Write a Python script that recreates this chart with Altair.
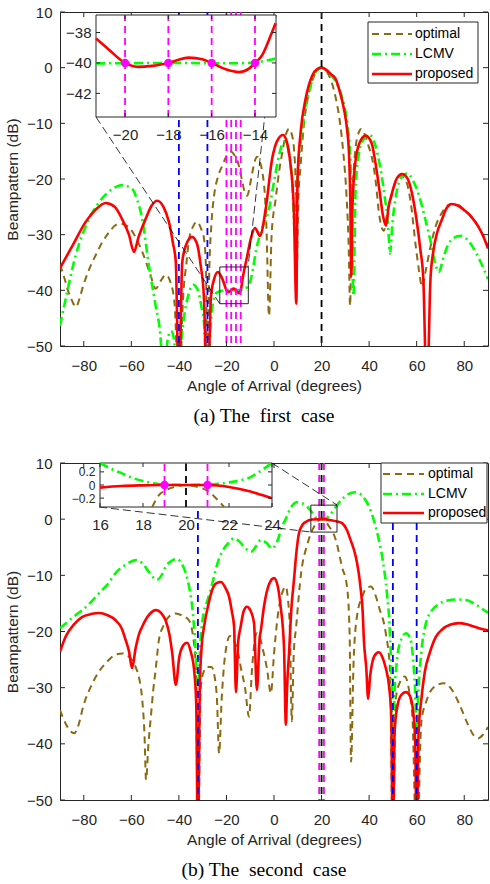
import altair as alt
import pandas as pd

# ---------------- case (a) ----------------
A_PROP_X = [-90, -84.8, -79.2, -75, -70.8, -67, -63.9, -61, -58.9, -57, -54, -51.5, -49.1, -46.5, -44.2, -42.5, -41.3, -40,
            -38.6, -37.1, -34.5, -32.5, -30.8, -29.5, -28, -26.5, -25.2, -23.6, -22.2, -21.3, -20, -19.2, -18, -17, -16,
            -14.8, -14, -13, -11.2, -9.8, -8, -5.9, -3.5, -0.8, 1.5, 3.8, 5.5, 7, 8.3, 9.4, 9.9, 11.2, 13.3, 16.1, 18, 20,
            22, 24, 25.9, 27.8, 29.4, 30.7, 31.6, 32.1, 32.5, 33, 34.2, 36, 38.5, 41, 43, 44.5, 45.8, 47.1, 48.2, 49.7,
            51.5, 53.8, 56, 58, 60, 61.5, 62.8, 64.3, 65.8, 67, 68.5, 70.7, 72.5, 74.8, 77.5, 80, 83, 86, 88, 90]
A_PROP_Y = [-36, -32, -27.7, -25.5, -24.3, -25, -27.2, -30, -33.1, -30.5, -27.2, -24.8, -23.9, -25, -27.7, -31.5, -34.9, -60,
            -35, -32, -30.4, -31.5, -35.6, -41, -60, -41, -38, -36.7, -37.5, -38.4, -40, -40.3, -40, -39.7, -40,
            -40.5, -40, -37.4, -33.7, -30.8, -28.8, -30.2, -25.4, -16.4, -13, -12.1, -13.5, -17.6, -25, -42.4, -20, -11.6, -5.6, -1.4, -0.3, 0,
            -0.4, -1.2, -2, -4.5, -7.4, -11, -16, -24, -37.4, -25, -17, -13.5, -12.2, -13.5, -18, -22.5, -26.5, -28.4, -25, -22.4,
            -20, -19.1, -19.8, -22.5, -27.5, -32.5, -38, -60, -38, -33, -29.8, -27.2, -25.3, -24.5, -24.8, -25.6, -26.8, -28.6, -30.3, -32.5]

A_LCMV_X = [-90, -87.6, -83.4, -77.8, -73.6, -68, -63.9, -59.6, -57.5, -55.4, -52.6, -49.8, -47.8, -46.2, -44.8, -43.3, -42,
            -40.8, -39.2, -37.9, -36, -34, -32, -30.5, -29.4, -28, -26.6, -25.3, -24, -22, -18, -14, -13, -11.2, -10.5, -9,
            -7.4, -5.6, -2.1, 0, 2.1, 3.5, 4.9, 6.3, 7.7, 8.8, 9.5, 10.5, 11.9, 13, 14.7, 17, 20, 23, 26, 28, 29.5, 31, 32.3,
            33.4, 34.3, 35.5, 37.5, 40, 42.5, 44.5, 46.5, 48, 48.8, 49.8, 51.5, 53.5, 56, 58.5, 61, 63.5, 66, 68, 69.4, 71,
            73, 75.5, 78.6, 81.5, 84, 87, 90]
A_LCMV_Y = [-46.4, -41.5, -33.7, -27.2, -24.2, -21.8, -21.1, -21.8, -23.8, -27.2, -35.6, -42.7, -48, -58, -49, -47.3, -49,
            -60, -50, -45, -40.8, -39, -40, -43, -46, -60, -46, -41.5, -40.4, -40.1, -40, -40, -39.8, -39.4, -39.1, -36.5,
            -32.5, -29.6, -25.4, -20.5, -15.8, -13.8, -13.4, -15.5, -20.6, -29.5, -23, -16, -11.6, -7.5, -4.4, -1.2, 0, -1, -2.5, -4.5, -6.8, -10.5, -18,
            -41, -22, -16, -13, -12, -13.8, -17.5, -23, -28.5, -33.4, -28, -22.5, -19.8, -19, -20.3, -23, -27, -31.5, -35.5, -36.7, -34.5,
            -32, -30.6, -30.2, -31, -32.5, -35, -38]

A_OPT_X = [-90, -88, -86.9, -85, -83.3, -81.8, -80.6, -78, -75, -72, -69.4, -67, -65.2, -62.5, -60.3, -57.8, -55.4, -51.9,
           -49.8, -47.5, -45.5, -43.5, -41.8, -40, -38.2, -36.8, -35.7, -34, -32.4, -30.8, -29.4, -28.6, -28, -27.3, -26.3,
           -25.2, -23.5, -21.7, -19.5, -18, -16.5, -15.4, -14.3, -13.3, -12.2, -11.2, -10.2, -9.1, -8, -7.1, -6, -4.9, -3.9,
           -3.2, -2.1, -1, 0.7, 2.2, 3.5, 5, 6.3, 7.5, 8.4, 9.2, 9.6, 10.2, 11.2, 12.5, 14, 16, 18, 20, 22, 24, 26, 27.8, 29.3,
           30.5, 31.4, 32, 32.7, 33.6, 34.5, 35.8, 36.6, 38, 39.7, 41.3, 42.8, 44.1, 46.2, 47.8, 49.1, 51.2, 53.4, 55.5, 57.5,
           59.6, 61, 62.3, 63.8, 65.9, 68, 70.7, 72.8, 74.8, 77, 80, 83, 86, 88, 90]
A_OPT_Y = [-35.4, -38, -39.7, -41.8, -43, -41.5, -39.7, -36.5, -33.7, -31.2, -29.6, -28.4, -28, -28.3, -29, -30.8, -33.1, -37.3,
           -39.7, -38.2, -37.2, -38.6, -42.5, -60, -41, -35, -30.8, -28.5, -27.7, -28.8, -30.8, -36, -60, -38, -28,
           -23, -19.5, -17.6, -15.5, -15.1, -15.8, -16.7, -18.5, -20.6, -22.5, -23, -21.3, -18.8, -16.7, -16, -16.8, -18.8, -22.5,
           -28.4, -44.6, -30, -23.6, -18.5, -15.2, -12, -11, -12, -14.6, -22, -36, -24, -17.6, -10.5, -6, -2.5, -0.6, 0, -0.6, -2.3, -5.5, -10, -16,
           -23, -32, -42.8, -26, -18, -13.8, -11.5, -11, -11.8, -14, -16.4, -20.5, -26, -29.3, -25.5, -23.6, -20.5, -19.4, -20.3, -24.2,
           -32, -36.5, -39.4, -36.5, -32, -28.5, -26, -24.8, -24.5, -24.6, -25.5, -26.8, -28.6, -30.2, -32]

A_BLUE = [-40, -28]
A_MAGENTA = [-20, -18, -16, -14]
A_BLACK = [20]
A_ZOOM = [-22.8, -10.8, -42.4, -35.8]          # x1, x2, y1, y2 of the zoomed box

A_IN_X = [-21.34, -13.03]
A_IN_Y = [-43.55, -36.85]
A_IN_PROP_X = [-21.34, -20.74, -20, -19.43, -18.74, -18, -17.05, -16.43, -16, -15.35, -14.74, -14.28, -14, -13.66, -13.28, -13.05]
A_IN_PROP_Y = [-38.39, -39.13, -40, -40.26, -40.19, -40, -39.65, -39.76, -40, -40.42, -40.6, -40.37, -40, -39.47, -38.22, -37.39]
A_IN_LCMV_X = [-21.34, -18, -15, -14, -13.5, -13.03]
A_IN_LCMV_Y = [-40.03, -40, -40.02, -39.98, -39.85, -39.7]
A_IN_DOTS = [-20, -18, -16, -14]
A_IN_DOT_Y = -40

# ---------------- case (b) ----------------
B_PROP_X = [-90, -87.6, -84, -80.6, -77, -73.6, -70, -66.6, -64, -62.4, -61, -59.7, -58.2, -56.8, -55.4, -52.5, -49.6, -47.5,
            -45.6, -44, -42.8, -41.3, -39.8, -38.2, -36.6, -35, -33.6, -32.7, -32, -31.2, -30.4, -29.4, -27.6, -26, -24.2,
            -22.3, -20.5, -18.9, -17.7, -16.8, -16, -15.1, -14, -12.7, -11.4, -10, -8.4, -7.2, -6, -5.6, -4.2, -2, 0, 1.5,
            2.8, 4.2, 5, 5.5, 6.3, 7.3, 8.4, 9.4, 10.5, 12, 13.3, 16, 20, 24, 26.5, 28.6, 30.5, 32.2, 34.4, 35.6, 36.5, 37.3,
            37.8, 38.8, 39.6, 40.4, 41.5, 43, 44.1, 45.5, 47, 48.4, 49.3, 50, 50.7, 51.8, 53.5, 55.5, 57.2, 58.6, 59.4, 60,
            60.8, 62, 63.5, 65.5, 68, 70.8, 74, 77.8, 81, 84, 87, 90]
B_PROP_Y = [-23.6, -20.9, -18.7, -17.4, -16.9, -16.7, -17.1, -18, -19.5, -21.5, -23.5, -26.5, -23, -20.5, -19.1, -17, -16.2, -16.7,
            -18, -20.5, -23.9, -29.5, -24.5, -22.5, -22, -23.6, -26.9, -33, -60, -30, -22.5, -19.1, -15.2, -12.6, -11.4,
            -11.2, -12.2, -13.8, -16.5, -19.1, -30.8, -22, -19.1, -16.3, -15.6, -16.2, -18.5, -30.4, -21, -20, -15.5, -11.5, -10.5, -11.8,
            -15.6, -22.7, -36.6, -30, -24, -16, -10.8, -6, -2.5, -1, -0.5, -0.05, 0, -0.18, -0.4, -0.7, -1.8, -3.7, -6.7, -9.5, -12.6, -16.5,
            -21.5, -26.5, -32, -28, -25.2, -23.9, -23.7, -24.5, -26.5, -29.8, -35, -60, -38, -33.5, -31.3, -30.8, -31.5, -34.5, -40, -60,
            -38, -32, -27, -23.8, -21, -19.6, -18.8, -18.5, -18.7, -19.1, -19.5, -19.8]

B_LCMV_X = [-90, -84, -78, -73.6, -70, -66.6, -62, -58, -55, -52.6, -49.2, -47, -45.6, -43, -40.8, -39, -37.1, -35.5, -34.4,
            -33.3, -32, -30.8, -29.5, -28, -26, -23.5, -21, -19, -16.8, -14.5, -12, -9.7, -7.5, -5.5, -3.2, -0.9, 1.5, 3.2,
            4.9, 7, 9.7, 12, 14, 16, 18, 20, 22, 24, 26, 28.5, 31, 34.4, 37, 40, 42, 44.1, 45.8, 47.5, 48.7, 49.5, 50, 50.6,
            51.5, 53, 55.5, 57.5, 58.5, 59.3, 60, 60.8, 62, 63.9, 66, 69, 73, 77, 80.7, 84, 87, 90]
B_LCMV_Y = [-19.4, -17.3, -15.2, -13.2, -11.6, -9.6, -8, -7.3, -8, -9.4, -10.8, -9.8, -8.5, -7.4, -7.1, -7.8, -9.6, -12.5, -15.6,
            -21, -30, -21, -16.5, -14.5, -11.5, -7.5, -5.2, -4.2, -3.4, -4, -5.2, -5.8, -4.8, -3.7, -4.2, -5.2, -3.8, -1.5,
            0, 2, 3, 2.8, 2.2, 1.2, 0.15, 0, 0.15, 1, 2.2, 3.5, 4.4, 4.8, 4.2, 2.2, -0.2, -3.7, -7.5, -13.2, -20, -30, -52, -32,
            -26, -22, -20.3, -21.5, -25, -30, -38, -30, -23.5, -18.5, -16.5, -15.2, -14.5, -14.3, -14.4, -15, -15.8, -16.7]

B_OPT_X = [-90, -87.5, -85.5, -84, -82.5, -80, -77, -74, -70, -67, -63.8, -61, -58.2, -56.5, -55.4, -54.5, -53.8, -52.8, -51.9,
           -50.8, -49.8, -48.4, -46.5, -44, -41.3, -38.5, -35.8, -34, -32.8, -32, -30.8, -29.6, -28, -26.3, -25, -24, -23.1,
           -22, -20.5, -18.5, -16.5, -15, -14, -12.2, -10.5, -9.3, -8.2, -7.2, -6, -4.5, -3, -1.3, 0, 1.5, 3.2, 4.9, 5.8, 6.7,
           7.5, 8.3, 9.3, 11.4, 14, 17, 20, 23, 26, 28.6, 30.7, 31.8, 32.4, 33.5, 35, 37.1, 38.8, 40.8, 42.5, 44.1, 47, 48.8,
           50, 51.2, 53, 55, 57, 58.2, 60, 62, 64, 67, 71.5, 75, 78, 81.5, 84, 86, 88, 90]
B_OPT_Y = [-34, -36.5, -37.8, -38.1, -37, -33, -29.8, -27.4, -25.3, -24.2, -23.9, -24.5, -26.3, -28.8, -32.2, -38, -46.4, -40, -35.7,
           -30.5, -26.9, -21.5, -19, -17.3, -16.8, -17.2, -18, -21, -27, -60, -30, -27.2, -26.3, -26.3, -28, -32, -41.7,
           -32, -24, -20.8, -22, -24, -26.3, -30, -35.2, -27, -22, -20.3, -21, -23.5, -26.5, -31, -24, -17.5, -13.5, -12, -14, -20,
           -36, -24, -19.2, -9.6, -4.5, -1.2, 0, -1.2, -3.7, -8.5, -12, -20.3, -43.2, -25, -17, -13.8, -12.3, -12, -13.3, -15.6, -20.3, -27,
           -60, -32, -29, -28, -31, -35.2, -60, -36, -32.5, -30, -29.2, -30.5, -33, -36.5, -38.5, -39, -38.3, -37]

B_BLUE = [-32, 50, 60]
B_MAGENTA = [19, 21]
B_BLACK = [20]
B_ZOOM = [15.5, 26.5, -2.3, 2.5]

B_IN_X = [16, 24]
B_IN_Y = [-0.335, 0.335]
B_IN_PROP_X = [16, 17, 18, 19, 20, 21, 22, 22.5, 23, 23.5, 24]
B_IN_PROP_Y = [-0.04, -0.015, -0.005, 0, 0, 0, -0.03, -0.06, -0.1, -0.15, -0.2]
B_IN_LCMV_X = [16, 16.5, 17, 17.5, 18, 18.5, 19, 20, 21, 21.5, 22, 22.5, 23, 23.5, 24]
B_IN_LCMV_Y = [0.335, 0.25, 0.18, 0.11, 0.06, 0.025, 0.005, 0, 0.005, 0.02, 0.04, 0.07, 0.12, 0.22, 0.335]
B_IN_OPT_X = [18.43, 18.75, 19, 19.6, 20, 20.4, 21, 21.3, 21.77]
B_IN_OPT_Y = [-0.335, -0.15, -0.09, -0.02, 0, -0.02, -0.09, -0.17, -0.335]
B_IN_DOTS = [19, 21]
B_IN_DOT_Y = 0

SERIES = ["optimal", "LCMV", "proposed"]
XTICKS = [-80, -60, -40, -20, 0, 20, 40, 60, 80]
YTICKS = [-50, -40, -30, -20, -10, 0, 10]
A_IN_XTICKS = [-20, -18, -16, -14]
A_IN_YTICKS = [-42, -40, -38]
B_IN_XTICKS = [16, 18, 20, 22, 24]
B_IN_YTICKS = [-0.2, 0, 0.2]

# ---------------- styling ----------------
W = 428
FONT = "Liberation Sans"
AXC = "#262626"
COL = {"optimal": "#8c6a12", "LCMV": "#00ff00", "proposed": "#ff0000"}
DASH = {"optimal": [7, 5], "LCMV": [9, 4, 2, 4], "proposed": None}
WID = {"optimal": 2.0, "LCMV": 2.6, "proposed": 2.6}
BLUE, MAG, BLK = "#0000ff", "#ff00ff", "#000000"


def line_layer(xs, ys, name, X, Y, clip):
    kw = dict(color=COL[name], strokeWidth=WID[name], interpolate="monotone", clip=clip)
    if DASH[name] is not None:
        kw["strokeDash"] = DASH[name]
    return alt.Chart(pd.DataFrame({"x": xs, "y": ys})).mark_line(**kw).encode(x=X("x"), y=Y("y"))


def panel(H, curves, blue, magenta, black, zoom, inset, legend, caption, cap_dx):
    sx = alt.Scale(domain=[-90, 90], nice=False, zero=False)
    sy = alt.Scale(domain=[-50, 10], nice=False, zero=False)
    ax_x = alt.Axis(values=XTICKS, title="Angle of Arrival (degrees)", ticks=False, domain=False, grid=False,
                    labelPadding=12, titlePadding=5, labelFlush=False)
    ax_y = alt.Axis(values=YTICKS, title="Beampattern (dB)", ticks=False, domain=False, grid=False,
                    labelPadding=8, titlePadding=6, labelFlush=False)
    X = lambda f: alt.X(f, type="quantitative", scale=sx, axis=ax_x)
    Y = lambda f: alt.Y(f, type="quantitative", scale=sy, axis=ax_y)

    layers = []
    for name in SERIES:
        xs, ys = curves[name]
        layers.append(line_layer(xs, ys, name, X, Y, True))
    for vals, c in ((blue, BLUE), (magenta, MAG), (black, BLK)):
        layers.append(alt.Chart(pd.DataFrame({"v": vals})).mark_rule(color=c, strokeWidth=1.8, strokeDash=[7, 5])
                      .encode(x=X("v")))
    # inward ticks
    tx = pd.DataFrame({"v": XTICKS})
    ty = pd.DataFrame({"v": YTICKS})
    layers.append(alt.Chart(tx).mark_rule(color=AXC, strokeWidth=1).encode(x=X("v"), y=alt.value(H), y2=alt.value(H - 5)))
    layers.append(alt.Chart(tx).mark_rule(color=AXC, strokeWidth=1).encode(x=X("v"), y=alt.value(0), y2=alt.value(5)))
    layers.append(alt.Chart(ty).mark_rule(color=AXC, strokeWidth=1).encode(y=Y("v"), x=alt.value(0), x2=alt.value(5)))
    layers.append(alt.Chart(ty).mark_rule(color=AXC, strokeWidth=1).encode(y=Y("v"), x=alt.value(W - 5), x2=alt.value(W)))
    # zoom box
    zb = pd.DataFrame({"x1": [zoom[0]], "x2": [zoom[1]], "y1": [zoom[2]], "y2": [zoom[3]]})
    layers.append(alt.Chart(zb).mark_rect(fillOpacity=0, stroke=AXC, strokeWidth=1)
                  .encode(x=X("x1"), x2="x2", y=Y("y1"), y2="y2"))
    # connectors
    one = pd.DataFrame({"a": [0]})
    for (p, q, r, s) in inset["connect"]:
        layers.append(alt.Chart(one).mark_rule(color=BLK, strokeWidth=0.8, strokeDash=[8, 4])
                      .encode(x=alt.value(p), y=alt.value(q), x2=alt.value(r), y2=alt.value(s)))
    # legend
    lx1, lx2, ly1, ly2, sx1, sx2, tx0, rows = legend
    layers.append(alt.Chart(one).mark_rect(fill="white", stroke=AXC, strokeWidth=1)
                  .encode(x=alt.value(lx1), x2=alt.value(lx2), y=alt.value(ly1), y2=alt.value(ly2)))
    for name, yy in zip(SERIES, rows):
        kw = dict(color=COL[name], strokeWidth=WID[name])
        if DASH[name] is not None:
            kw["strokeDash"] = DASH[name]
        layers.append(alt.Chart(one).mark_rule(**kw)
                      .encode(x=alt.value(sx1), x2=alt.value(sx2), y=alt.value(yy)))
        layers.append(alt.Chart(one).mark_text(text=name, font=FONT, fontSize=14, color="black", align="left",
                                               baseline="middle")
                      .encode(x=alt.value(tx0), y=alt.value(yy)))
    main = alt.layer(*layers)

    # ---------------- inset ----------------
    (ix0, ix1), (iy0, iy1) = inset["dom_x"], inset["dom_y"]
    (px0, px1), (py0, py1) = inset["rng_x"], inset["rng_y"]   # py0 bottom pixel, py1 top pixel
    six = alt.Scale(domain=[ix0, ix1], range=[px0, px1], nice=False, zero=False)
    siy = alt.Scale(domain=[iy0, iy1], range=[py0, py1], nice=False, zero=False)
    iax_x = alt.Axis(orient="bottom", offset=-(H - py0), values=inset["xt"], ticks=False, domain=False, grid=False,
                     title=None, labelPadding=10, labelFlush=False, labelOverlap=False, format=inset["fmt_x"])
    iax_y = alt.Axis(orient="left", offset=-px0, values=inset["yt"], ticks=False, domain=False, grid=False,
                     title=None, labelPadding=5, labelFlush=False, labelOverlap=False, format=inset["fmt_y"],
                     labelFontSize=inset["yfs"])
    IX = lambda f: alt.X(f, type="quantitative", scale=six, axis=iax_x)
    IY = lambda f: alt.Y(f, type="quantitative", scale=siy, axis=iax_y)
    il = []
    bg = pd.DataFrame({"x1": [ix0], "x2": [ix1], "y1": [iy0], "y2": [iy1]})
    il.append(alt.Chart(bg).mark_rect(fill="white", stroke=AXC, strokeWidth=1)
              .encode(x=IX("x1"), x2="x2", y=IY("y1"), y2="y2"))
    for name in SERIES:
        if name in inset["curves"]:
            xs, ys = inset["curves"][name]
            il.append(line_layer(xs, ys, name, IX, IY, False))
    ir = pd.DataFrame({"v": inset["mag"], "lo": [iy0] * len(inset["mag"]), "hi": [iy1] * len(inset["mag"])})
    il.append(alt.Chart(ir).mark_rule(color=MAG, strokeWidth=1.8, strokeDash=[7, 5])
              .encode(x=IX("v"), y=IY("lo"), y2="hi"))
    if inset["blk"]:
        ib = pd.DataFrame({"v": inset["blk"], "lo": [iy0] * len(inset["blk"]), "hi": [iy1] * len(inset["blk"])})
        il.append(alt.Chart(ib).mark_rule(color=BLK, strokeWidth=1.8, strokeDash=[7, 5])
                  .encode(x=IX("v"), y=IY("lo"), y2="hi"))
    dots = pd.DataFrame({"x": inset["dots"], "y": [inset["dot_y"]] * len(inset["dots"])})
    il.append(alt.Chart(dots).mark_circle(color=MAG, size=70, opacity=1).encode(x=IX("x"), y=IY("y")))
    itx = pd.DataFrame({"v": inset["xt"]})
    ity = pd.DataFrame({"v": inset["yt"]})
    il.append(alt.Chart(itx).mark_rule(color=AXC, strokeWidth=1).encode(x=IX("v"), y=alt.value(py0), y2=alt.value(py0 - 4)))
    il.append(alt.Chart(itx).mark_rule(color=AXC, strokeWidth=1).encode(x=IX("v"), y=alt.value(py1), y2=alt.value(py1 + 4)))
    il.append(alt.Chart(ity).mark_rule(color=AXC, strokeWidth=1).encode(y=IY("v"), x=alt.value(px0), x2=alt.value(px0 + 4)))
    il.append(alt.Chart(ity).mark_rule(color=AXC, strokeWidth=1).encode(y=IY("v"), x=alt.value(px1 - 4), x2=alt.value(px1)))
    ins = alt.layer(*il)

    return alt.layer(main, ins).resolve_scale(x="independent", y="independent").properties(
        width=W, height=H,
        title=alt.TitleParams(caption, orient="bottom", font="Liberation Serif", fontSize=19.5, fontWeight="normal",
                              color="black", offset=13, anchor="middle", dx=cap_dx))


H1, H2 = 334, 337
top = panel(
    H1,
    {"optimal": (A_OPT_X, A_OPT_Y), "LCMV": (A_LCMV_X, A_LCMV_Y), "proposed": (A_PROP_X, A_PROP_Y)},
    A_BLUE, A_MAGENTA, A_BLACK, A_ZOOM,
    {"dom_x": A_IN_X, "dom_y": A_IN_Y, "rng_x": (36, 216), "rng_y": (105, 3),
     "xt": A_IN_XTICKS, "yt": A_IN_YTICKS, "fmt_x": "d", "fmt_y": "d", "yfs": 15,
     "curves": {"LCMV": (A_IN_LCMV_X, A_IN_LCMV_Y), "proposed": (A_IN_PROP_X, A_IN_PROP_Y)},
     "mag": A_MAGENTA, "blk": [], "dots": A_IN_DOTS, "dot_y": A_IN_DOT_Y,
     "connect": [(36, 105, 160, 292), (216, 3, 188, 255)]},
    (308, 418, 10, 71, 312, 352, 355, [22, 42, 62]),
    "(a) The\u00a0 first\u00a0 case", -10)

bottom = panel(
    H2,
    {"optimal": (B_OPT_X, B_OPT_Y), "LCMV": (B_LCMV_X, B_LCMV_Y), "proposed": (B_PROP_X, B_PROP_Y)},
    B_BLUE, B_MAGENTA, B_BLACK, B_ZOOM,
    {"dom_x": B_IN_X, "dom_y": B_IN_Y, "rng_x": (40, 212), "rng_y": (44, 0),
     "xt": B_IN_XTICKS, "yt": B_IN_YTICKS, "fmt_x": "d", "fmt_y": "", "yfs": 12,
     "curves": {"optimal": (B_IN_OPT_X, B_IN_OPT_Y), "LCMV": (B_IN_LCMV_X, B_IN_LCMV_Y),
                "proposed": (B_IN_PROP_X, B_IN_PROP_Y)},
     "mag": B_MAGENTA, "blk": B_BLACK, "dots": B_IN_DOTS, "dot_y": B_IN_DOT_Y,
     "connect": [(212, 0, 277, 42), (39, 44, 251, 69)]},
    (321, 427, 0, 60, 323, 364, 368, [11, 31, 50]),
    "(b) The\u00a0 second\u00a0 case", -10)

chart = alt.vconcat(top, bottom, spacing=29).properties(
    padding={"left": 5, "top": 4, "right": 1, "bottom": 2}, background="white"
).configure_view(stroke=AXC, strokeWidth=1).configure_axis(
    labelFont=FONT, labelFontSize=15, labelColor=AXC, titleFont=FONT, titleFontSize=15.5, titleColor=AXC,
    titleFontWeight="normal"
)

chart.save("out.html", embed_options={"renderer": "svg", "actions": False})
